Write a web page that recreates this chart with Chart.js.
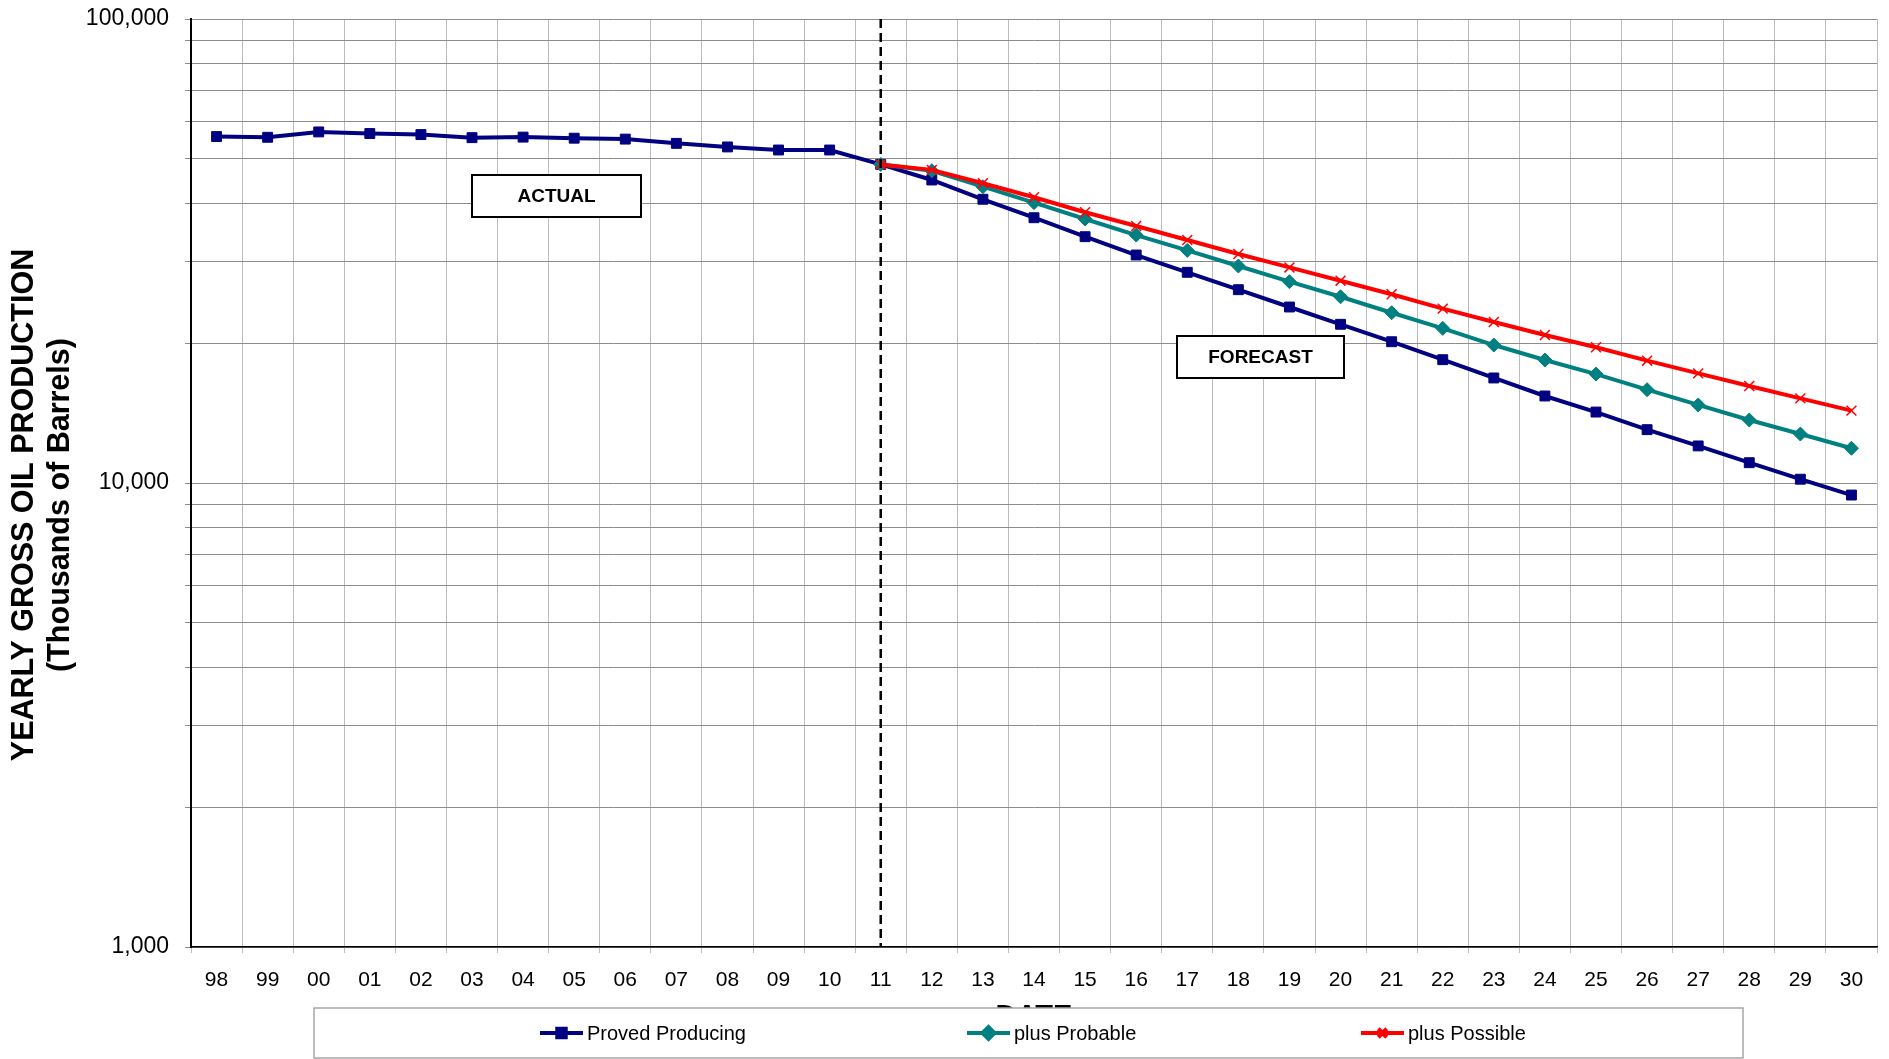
<!DOCTYPE html>
<html>
<head>
<meta charset="utf-8">
<script src="https://cdn.jsdelivr.net/npm/chart.js@4/dist/chart.umd.min.js"></script>
<style>
  html, body { margin: 0; padding: 0; background: #fff; }
  #wrap { position: relative; width: 1889px; height: 1059px; }
</style>
</head>
<body>
<div id="wrap"><canvas id="chart" width="1889" height="1059"></canvas></div>
<script>
const FONT = '"Liberation Sans", Arial, sans-serif';

const years = ['98', '99', '00', '01', '02', '03', '04', '05', '06', '07', '08', '09', '10',
  '11', '12', '13', '14', '15', '16', '17', '18', '19', '20', '21', '22', '23', '24', '25',
  '26', '27', '28', '29', '30'];

const seriesNames = ['Proved Producing', 'plus Probable', 'plus Possible'];

const provedProducing = [55800, 55600, 57100, 56650, 56350, 55500, 55650, 55350, 55100, 53950,
  53000, 52200, 52200, 48600, 44980, 40880, 37300, 33950, 31000, 28450, 26100, 23950, 21980,
  20160, 18440, 16840, 15400, 14220, 13030, 12020, 11060, 10190, 9420];

const plusProbable = [null, null, null, null, null, null, null, null, null, null, null, null, null,
  48600, 47100, 43510, 40200, 37070, 34230, 31720, 29350, 27160, 25200, 23280, 21540, 19830,
  18410, 17170, 15890, 14730, 13670, 12750, 11880];

const plusPossible = [null, null, null, null, null, null, null, null, null, null, null, null, null,
  48600, 47300, 44260, 41290, 38330, 35800, 33400, 31150, 29150, 27290, 25510, 23760, 22230,
  20840, 19610, 18350, 17230, 16180, 15220, 14320];

const yGridTicks = [1000, 2000, 3000, 4000, 5000, 6000, 7000, 8000, 9000,
  10000, 20000, 30000, 40000, 50000, 60000, 70000, 80000, 90000, 100000];
const yLabelTicks = [1000, 10000, 100000];

const forecastStart = '11';

function drawBox(ctx, text, x1, y1, x2, y2) {
  ctx.save();
  ctx.fillStyle = '#fff';
  ctx.fillRect(x1, y1, x2 - x1, y2 - y1);
  ctx.lineWidth = 2;
  ctx.strokeStyle = '#000';
  ctx.strokeRect(x1, y1, x2 - x1, y2 - y1);
  ctx.fillStyle = '#000';
  ctx.font = 'bold 19px ' + FONT;
  ctx.textAlign = 'center';
  ctx.textBaseline = 'middle';
  ctx.fillText(text, (x1 + x2) / 2, (y1 + y2) / 2 + 1);
  ctx.restore();
}

function rotatedText(ctx, text, x, y) {
  ctx.save();
  ctx.fillStyle = '#000';
  ctx.font = 'bold 30.5px ' + FONT;
  ctx.textAlign = 'center';
  ctx.textBaseline = 'middle';
  ctx.translate(x, y);
  ctx.rotate(-Math.PI / 2);
  ctx.fillText(text, 0, 0);
  ctx.restore();
}

const overlay = {
  id: 'overlay',
  afterDatasetsDraw(chart) {
    const { ctx, chartArea, scales } = chart;
    // split between actual and forecast
    const xs = scales.x.getPixelForValue(years.indexOf(forecastStart));
    ctx.save();
    ctx.strokeStyle = '#000';
    ctx.lineWidth = 2.5;
    ctx.setLineDash([9, 5]);
    ctx.beginPath();
    ctx.moveTo(xs, chartArea.top);
    ctx.lineTo(xs, chartArea.bottom);
    ctx.stroke();
    ctx.restore();

    drawBox(ctx, 'ACTUAL', 472, 175, 641, 217);
    drawBox(ctx, 'FORECAST', 1177, 336, 1344, 378);
  },
  afterDraw(chart) {
    const ctx = chart.ctx;

    // y axis title, two lines
    rotatedText(ctx, 'YEARLY GROSS OIL PRODUCTION', 25, 505);
    rotatedText(ctx, '(Thousands of Barrels)', 61, 505);

    // legend box, drawn over the lower part of the x title
    ctx.save();
    ctx.fillStyle = '#fff';
    ctx.fillRect(314, 1008, 1429, 50);
    ctx.strokeStyle = '#a6a6a6';
    ctx.lineWidth = 1.5;
    ctx.strokeRect(314, 1008, 1429, 50);

    const itemX = [540, 967, 1361];
    const ly = 1033;
    chart.data.datasets.forEach((ds, i) => {
      const x0 = itemX[i];
      ctx.strokeStyle = ds.borderColor;
      ctx.lineWidth = 4;
      ctx.beginPath();
      ctx.moveTo(x0, ly);
      ctx.lineTo(x0 + 43, ly);
      ctx.stroke();
      ctx.fillStyle = ds.pointBackgroundColor;
      ctx.strokeStyle = ds.pointBorderColor;
      Chart.helpers.drawPoint(ctx, {
        pointStyle: ds.pointStyle,
        radius: ds.pointRadius - 1,
        borderWidth: ds.pointBorderWidth,
        rotation: 0
      }, x0 + 21.5, ly);
      ctx.fillStyle = '#000';
      ctx.font = '20px ' + FONT;
      ctx.textAlign = 'left';
      ctx.textBaseline = 'middle';
      ctx.fillText(ds.label, x0 + 47, ly + 1);
    });
    ctx.restore();
  }
};

new Chart(document.getElementById('chart'), {
  type: 'line',
  data: {
    labels: years,
    datasets: [
      {
        label: seriesNames[0],
        data: provedProducing,
        borderColor: '#000080',
        backgroundColor: '#000080',
        pointBackgroundColor: '#000080',
        pointBorderColor: '#000080',
        borderWidth: 4,
        pointStyle: 'rect',
        pointRadius: 7,
        pointBorderWidth: 1,
        order: 3,
      },
      {
        label: seriesNames[1],
        data: plusProbable,
        borderColor: '#008080',
        backgroundColor: '#008080',
        pointBackgroundColor: '#008080',
        pointBorderColor: '#008080',
        borderWidth: 4,
        pointStyle: 'rectRot',
        pointRadius: 7,
        pointBorderWidth: 1,
        order: 2,
      },
      {
        label: seriesNames[2],
        data: plusPossible,
        borderColor: '#ff0000',
        backgroundColor: '#ff0000',
        pointBackgroundColor: '#ff0000',
        pointBorderColor: '#ff0000',
        borderWidth: 4,
        pointStyle: 'crossRot',
        pointRadius: 7,
        pointBorderWidth: 1.5,
        order: 1,
      },
    ],
  },
  options: {
    responsive: false,
    animation: false,
    layout: { padding: { top: 19, right: 12, bottom: 0, left: 0 } },
    plugins: {
      legend: { display: false },
      tooltip: { enabled: false },
    },
    elements: { line: { tension: 0 } },
    scales: {
      x: {
        type: 'category',
        offset: true,
        grid: { offset: true, color: '#bdbdbd', lineWidth: 1, tickLength: 6 },
        border: { color: '#000', width: 1.5 },
        ticks: {
          color: '#000',
          padding: 15,
          autoSkip: false,
          maxRotation: 0,
          font: { family: FONT, size: 21 },
        },
        title: {
          display: true,
          text: 'DATE',
          color: '#000',
          font: { family: FONT, size: 29, weight: 'bold', lineHeight: 1.2 },
          padding: { top: 0, bottom: 25 },
        },
        afterFit: (s) => { s.height = 112; },
      },
      y: {
        type: 'logarithmic',
        min: 1000,
        max: 100000,
        afterBuildTicks: (s) => { s.ticks = yGridTicks.map((v) => ({ value: v })); },
        afterFit: (s) => {
          s.width = 191;
          s.paddingTop = 0;
          s.paddingBottom = 0;
        },
        grid: { color: '#8c8c8c', lineWidth: 1, tickLength: 6 },
        border: { color: '#000', width: 2 },
        ticks: {
          color: '#000',
          padding: 16,
          autoSkip: false,
          font: { family: FONT, size: 23 },
          callback: (v) => (yLabelTicks.includes(v) ? v.toLocaleString('en-US') : ''),
        },
      },
    },
  },
  plugins: [overlay],
});
</script>
</body>
</html>
